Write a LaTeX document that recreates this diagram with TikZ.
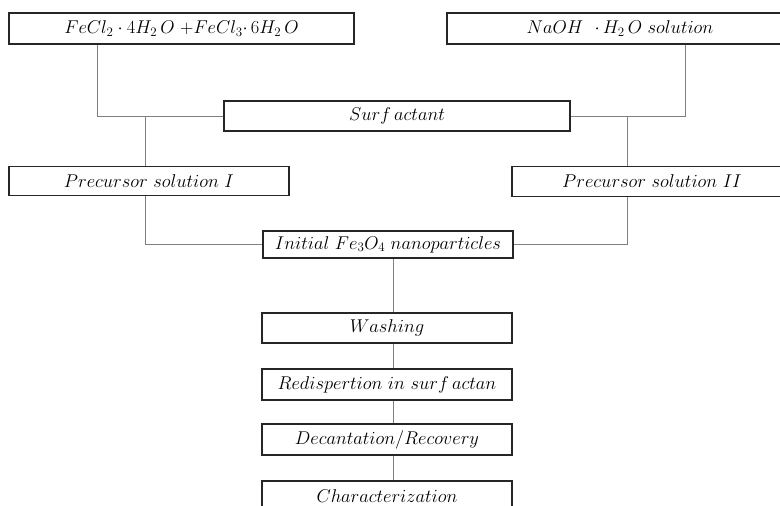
\RequirePackage{fix-cm}
\documentclass[tikz,border=0pt]{standalone}
\begin{document}
\begin{tikzpicture}[x=1pt,y=-1pt,
  box/.style={draw=black!85,line width=1.2pt,fill=white,inner sep=0pt,
    font=\fontsize{18.5}{22}\selectfont},
  link/.style={draw=black!50,line width=0.9pt}]
\useasboundingbox (0,0) rectangle (780,506);
\clip (0,0) rectangle (780,506);
\fill[white] (0,0) rectangle (780,506);
% nodes
\node[box,minimum width=345pt,minimum height=31pt] (fe) at (181.5,28.5) {$FeCl_2\cdot 4H_2\,O\ {+}FeCl_3{\cdot}\,6H_2\,O$};
\node[box,minimum width=346pt,minimum height=31pt] (na) at (620,28.5) {$NaOH\ \ {\cdot}\,H_2\,O\ solution$};
\node[box,minimum width=346pt,minimum height=30pt] (sf) at (397,116) {$Surf\,actant$};
\node[box,minimum width=280pt,minimum height=29pt] (p1) at (149,181) {$Precursor\ solution\ I$};
\node[box,minimum width=280pt,minimum height=30pt] (p2) at (652,181.5) {$Precursor\ solution\ II$};
\node[box,minimum width=250pt,minimum height=27pt] (in) at (388,244.5) {$Initial\ Fe_3O_4\ nanoparticles$};
\node[box,minimum width=250pt,minimum height=30pt] (wa) at (387,328) {$Washing$};
\node[box,minimum width=250pt,minimum height=31pt] (re) at (387,384.5) {$Redispertion\ in\ surf\,actan$};
\node[box,minimum width=250pt,minimum height=31pt] (de) at (387,439.5) {$Decantation/Recovery$};
\node[box,minimum width=250pt,minimum height=30pt] (ch) at (387,496) {$Characterization$};
% junction coordinates
\coordinate (xl) at (97,0);
\coordinate (xr) at (685,0);
\coordinate (jl) at (145,116);
\coordinate (jr) at (627,116);
\coordinate (xc) at (393,0);
% connectors
\draw[link] (fe.south -| xl) |- (sf.west);
\draw[link] (na.south -| xr) |- (sf.east);
\draw[link] (jl) -- (p1.north -| jl);
\draw[link] (jr) -- (p2.north -| jr);
\draw[link] (p1.south -| jl) |- (in.west);
\draw[link] (p2.south -| jr) |- (in.east);
\draw[link] (in.south -| xc) -- (wa.north -| xc);
\draw[link] (wa.south -| xc) -- (re.north -| xc);
\draw[link] (re.south -| xc) -- (de.north -| xc);
\draw[link] (de.south -| xc) -- (ch.north -| xc);
\end{tikzpicture}
\end{document}
